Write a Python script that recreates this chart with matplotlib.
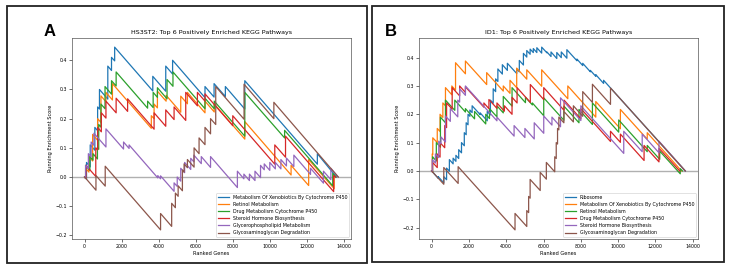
import matplotlib
matplotlib.use("Agg")
import matplotlib.pyplot as plt
from matplotlib.patches import Rectangle

# running enrichment score:
# each hit is (rank, score just before the hit, score just after the hit)
A_TITLE = "HS3ST2: Top 6 Positively Enriched KEGG Pathways"
A_LABELS = ["Metabolism Of Xenobiotics By Cytochrome P450", "Retinol Metabolism",
            "Drug Metabolism Cytochrome P450", "Steroid Hormone Biosynthesis",
            "Glycerophospholipid Metabolism", "Glycosaminoglycan Degradation"]

A_XENO = [(100, -0.007, 0.05), (300, 0.035, 0.11), (550, 0.092, 0.17), (700, 0.159, 0.24),
          (800, 0.233, 0.30), (1250, 0.267, 0.38), (1450, 0.365, 0.41), (1620, 0.398, 0.445),
          (3680, 0.295, 0.345), (4380, 0.294, 0.38), (4750, 0.353, 0.40), (6500, 0.272, 0.31),
          (6990, 0.274, 0.32), (7600, 0.276, 0.31), (8650, 0.233, 0.33), (12570, 0.044, 0.08)]
A_RET = [(50, -0.004, 0.03), (230, 0.017, 0.07), (430, 0.055, 0.146), (700, 0.126, 0.20),
         (880, 0.187, 0.278), (1150, 0.258, 0.29), (1500, 0.264, 0.32), (3600, 0.167, 0.21),
         (3750, 0.2, 0.25), (3930, 0.237, 0.294), (4400, 0.26, 0.28), (5190, 0.222, 0.277),
         (5550, 0.251, 0.29), (6500, 0.22, 0.26), (7000, 0.223, 0.25), (8650, 0.13, 0.19),
         (11150, 0.007, 0.04), (12100, -0.029, 0.06), (13480, -0.04, 0.005)]
A_DRUG = [(50, -0.004, 0.04), (280, 0.023, 0.07), (450, 0.058, 0.08), (690, 0.062, 0.10),
          (760, 0.095, 0.18), (880, 0.171, 0.25), (1100, 0.234, 0.31), (1450, 0.284, 0.33),
          (1700, 0.312, 0.36), (3400, 0.236, 0.26), (3700, 0.238, 0.29), (3930, 0.273, 0.306),
          (4450, 0.268, 0.334), (4770, 0.311, 0.36), (6500, 0.234, 0.27), (7000, 0.234, 0.26),
          (8650, 0.14, 0.29), (10800, 0.134, 0.16), (13400, -0.03, 0.012)]
A_STER = [(70, -0.005, 0.04), (600, 0.002, 0.10), (700, 0.093, 0.17), (900, 0.155, 0.22),
          (1150, 0.202, 0.26), (1700, 0.22, 0.27), (2320, 0.225, 0.268), (3750, 0.164, 0.22),
          (4380, 0.174, 0.23), (4830, 0.197, 0.24), (5460, 0.194, 0.29), (6090, 0.244, 0.29),
          (6500, 0.26, 0.285), (8000, 0.176, 0.21), (10270, 0.044, 0.11), (10850, 0.068, 0.14),
          (13450, -0.05, 0.005)]
A_GLYP = [(50, -0.004, 0.04), (200, 0.029, 0.08), (350, 0.069, 0.12), (500, 0.109, 0.15),
          (1150, 0.103, 0.165), (2100, 0.096, 0.12), (2400, 0.098, 0.11), (3950, -0.003, 0.005),
          (4100, -0.006, 0.004), (4830, -0.049, -0.02), (5000, -0.032, 0.0), (5190, -0.014, 0.03),
          (5400, 0.015, 0.05), (5730, 0.026, 0.064), (5900, 0.052, 0.075), (6300, 0.046, 0.07),
          (6800, 0.033, 0.07), (8250, -0.036, 0.02), (8600, -0.006, 0.01), (8900, -0.012, 0.01),
          (9200, -0.012, 0.02), (9500, -0.002, 0.04), (9700, 0.025, 0.045), (10000, 0.023, 0.05),
          (10300, 0.028, 0.05), (10600, 0.028, 0.06), (10900, 0.038, 0.065), (11300, 0.036, 0.075),
          (12200, 0.009, 0.03), (12900, -0.021, 0.02), (13300, -0.009, 0.03)]
A_GLYC = [(610, -0.045, 0.005), (1110, -0.031, 0.037), (4100, -0.181, -0.125), (4700, -0.169, -0.09),
          (4900, -0.105, -0.055), (5050, -0.066, -0.03), (5280, -0.047, 0.024), (5370, 0.017, 0.045),
          (5550, 0.032, 0.06), (5910, 0.034, 0.10), (6180, 0.08, 0.134), (6500, 0.111, 0.17),
          (6800, 0.148, 0.20), (7080, 0.18, 0.31), (8610, 0.198, 0.318), (10220, 0.2, 0.256)]
A_END = [13600, 13550, 13560, 13550, 13700, 13700]

B_TITLE = "ID1: Top 6 Positively Enriched KEGG Pathways"
B_LABELS = ["Ribosome", "Metabolism Of Xenobiotics By Cytochrome P450", "Retinol Metabolism",
            "Drug Metabolism Cytochrome P450", "Steroid Hormone Biosynthesis",
            "Glycosaminoglycan Degradation"]

B_RIBO = [(350, -0.026, -0.02), (650, -0.042, -0.02), (800, -0.031, 0.01), (950, -0.001, 0.04),
          (1150, 0.025, 0.045), (1300, 0.034, 0.055), (1450, 0.044, 0.075), (1600, 0.064, 0.10),
          (1750, 0.089, 0.135), (1850, 0.128, 0.17), (1950, 0.163, 0.20), (2050, 0.193, 0.215),
          (2170, 0.206, 0.23), (2600, 0.199, 0.205), (2980, 0.177, 0.21), (3150, 0.198, 0.25),
          (3300, 0.239, 0.29), (3430, 0.28, 0.325), (3550, 0.316, 0.36), (3790, 0.342, 0.375),
          (4060, 0.355, 0.38), (4560, 0.344, 0.36), (4700, 0.35, 0.39), (4920, 0.374, 0.415),
          (5100, 0.402, 0.425), (5280, 0.412, 0.43), (5450, 0.418, 0.432), (5640, 0.418, 0.435),
          (5900, 0.416, 0.437), (6180, 0.417, 0.42), (6400, 0.404, 0.42), (6710, 0.397, 0.418),
          (6950, 0.40, 0.42), (7250, 0.398, 0.428), (7790, 0.389, 0.395), (8100, 0.372, 0.38),
          (8510, 0.35, 0.355), (8800, 0.334, 0.34), (9220, 0.309, 0.32)]
B_XENO = [(30, -0.002, 0.06), (60, 0.058, 0.117), (300, 0.1, 0.15), (450, 0.139, 0.2),
          (600, 0.189, 0.24), (740, 0.23, 0.294), (1080, 0.269, 0.30), (1280, 0.285, 0.382),
          (1810, 0.343, 0.388), (2950, 0.305, 0.347), (3840, 0.282, 0.30), (4200, 0.274, 0.32),
          (4560, 0.294, 0.363), (5100, 0.324, 0.357), (5900, 0.299, 0.357), (7300, 0.255, 0.30),
          (8800, 0.19, 0.245), (10120, 0.149, 0.217), (11560, 0.112, 0.135)]
B_RET = [(50, -0.004, 0.05), (250, 0.035, 0.10), (470, 0.084, 0.19), (740, 0.17, 0.25),
         (1240, 0.214, 0.25), (1810, 0.208, 0.22), (2300, 0.184, 0.21), (2900, 0.166, 0.20),
         (3100, 0.185, 0.22), (3500, 0.191, 0.23), (3840, 0.205, 0.263), (4310, 0.229, 0.294),
         (5030, 0.241, 0.26), (5400, 0.233, 0.24), (6010, 0.195, 0.258), (7090, 0.179, 0.229),
         (7900, 0.17, 0.217), (8620, 0.164, 0.24), (10030, 0.137, 0.18), (11560, 0.068, 0.09),
         (12230, 0.041, 0.07), (13330, -0.01, 0.008)]
B_DRUG = [(50, -0.004, 0.03), (300, 0.012, 0.06), (450, 0.049, 0.10), (700, 0.082, 0.16),
          (800, 0.153, 0.24), (1100, 0.218, 0.294), (1500, 0.265, 0.30), (1810, 0.277, 0.297),
          (2800, 0.225, 0.24), (3070, 0.22, 0.252), (3500, 0.221, 0.24), (3900, 0.211, 0.23),
          (4310, 0.2, 0.26), (4580, 0.24, 0.294), (5290, 0.242, 0.305), (6010, 0.252, 0.294),
          (7100, 0.214, 0.25), (8000, 0.184, 0.22), (9590, 0.104, 0.14), (10120, 0.101, 0.13),
          (11390, 0.037, 0.09), (12190, 0.032, 0.08)]
B_STER = [(30, -0.002, 0.04), (200, 0.028, 0.06), (380, 0.047, 0.105), (500, 0.096, 0.12),
          (740, 0.102, 0.194), (1000, 0.175, 0.22), (1400, 0.191, 0.25), (1500, 0.243, 0.29),
          (1810, 0.267, 0.30), (3500, 0.177, 0.19), (4420, 0.123, 0.16), (5000, 0.118, 0.15),
          (5500, 0.113, 0.17), (6010, 0.133, 0.194), (6450, 0.162, 0.19), (6910, 0.156, 0.258),
          (8000, 0.178, 0.23), (10300, 0.062, 0.14), (11290, 0.068, 0.13), (12190, 0.064, 0.105)]
B_GLYC = [(650, -0.047, 0.012), (1420, -0.044, 0.015), (4470, -0.208, -0.15), (5100, -0.196, -0.14),
          (5200, -0.147, -0.09), (5280, -0.096, -0.03), (5820, -0.069, -0.005), (6150, -0.029, 0.03),
          (6600, -0.003, 0.05), (6680, 0.044, 0.10), (6750, 0.095, 0.15), (6820, 0.145, 0.19),
          (7090, 0.17, 0.21), (7600, 0.173, 0.23), (8100, 0.193, 0.28), (8620, 0.242, 0.306),
          (9590, 0.235, 0.293)]
B_END = [13600, 13400, 13450, 13300, 13600, 13600]

X_TICKS = [0, 2000, 4000, 6000, 8000, 10000, 12000, 14000]
Y_TICKS = [-0.2, -0.1, 0.0, 0.1, 0.2, 0.3, 0.4]


def staircase(hits, end):
    xs, ys = [0], [0.0]
    for rank, before, after in hits:
        xs += [rank, rank]
        ys += [before, after]
    xs.append(end)
    ys.append(0.0)
    return xs, ys


def draw_panel(ax, title, labels, series, ends):
    ax.axhline(0, color="#b0b0b0", lw=1.0, zorder=0)
    for i, (hits, end, label) in enumerate(zip(series, ends, labels)):
        xs, ys = staircase(hits, end)
        ax.plot(xs, ys, color="C%d" % i, lw=0.9, label=label)
    ax.set_title(title, fontsize=4.6, pad=3)
    ax.set_xlabel("Ranked Genes", fontsize=3.6, labelpad=1.5)
    ax.set_ylabel("Running Enrichment Score", fontsize=3.6, labelpad=2)
    ax.set_xticks(X_TICKS)
    ax.set_yticks(Y_TICKS)
    ax.tick_params(labelsize=3.4, length=2, width=0.4, pad=1.5)
    for s in ax.spines.values():
        s.set_linewidth(0.5)
        s.set_color("#555555")
    leg = ax.legend(loc="lower right", fontsize=3.4, handlelength=2.3,
                    borderaxespad=0.4, labelspacing=0.45, framealpha=1)
    leg.get_frame().set_linewidth(0.4)


fig = plt.figure(figsize=(7.33, 2.7), dpi=100)

ax_a = fig.add_axes([0.0982, 0.1148, 0.3806, 0.7444])
ax_b = fig.add_axes([0.5716, 0.1148, 0.3806, 0.7444])

draw_panel(ax_a, A_TITLE, A_LABELS,
           [A_XENO, A_RET, A_DRUG, A_STER, A_GLYP, A_GLYC], A_END)
draw_panel(ax_b, B_TITLE, B_LABELS,
           [B_RIBO, B_XENO, B_RET, B_DRUG, B_STER, B_GLYC], B_END)

# frames around each panel
fig.patches.append(Rectangle((0.0095, 0.026), 0.4912, 0.952, transform=fig.transFigure,
                             fill=False, edgecolor="#222222", lw=1.3))
fig.patches.append(Rectangle((0.5075, 0.0296), 0.4802, 0.948, transform=fig.transFigure,
                             fill=False, edgecolor="#222222", lw=1.3))

fig.text(0.068, 0.885, "A", fontsize=12, fontweight="bold", family="Liberation Sans",
         ha="center", va="center")
fig.text(0.533, 0.885, "B", fontsize=12, fontweight="bold", family="Liberation Sans",
         ha="center", va="center")

fig.savefig("out.png", dpi=100)
